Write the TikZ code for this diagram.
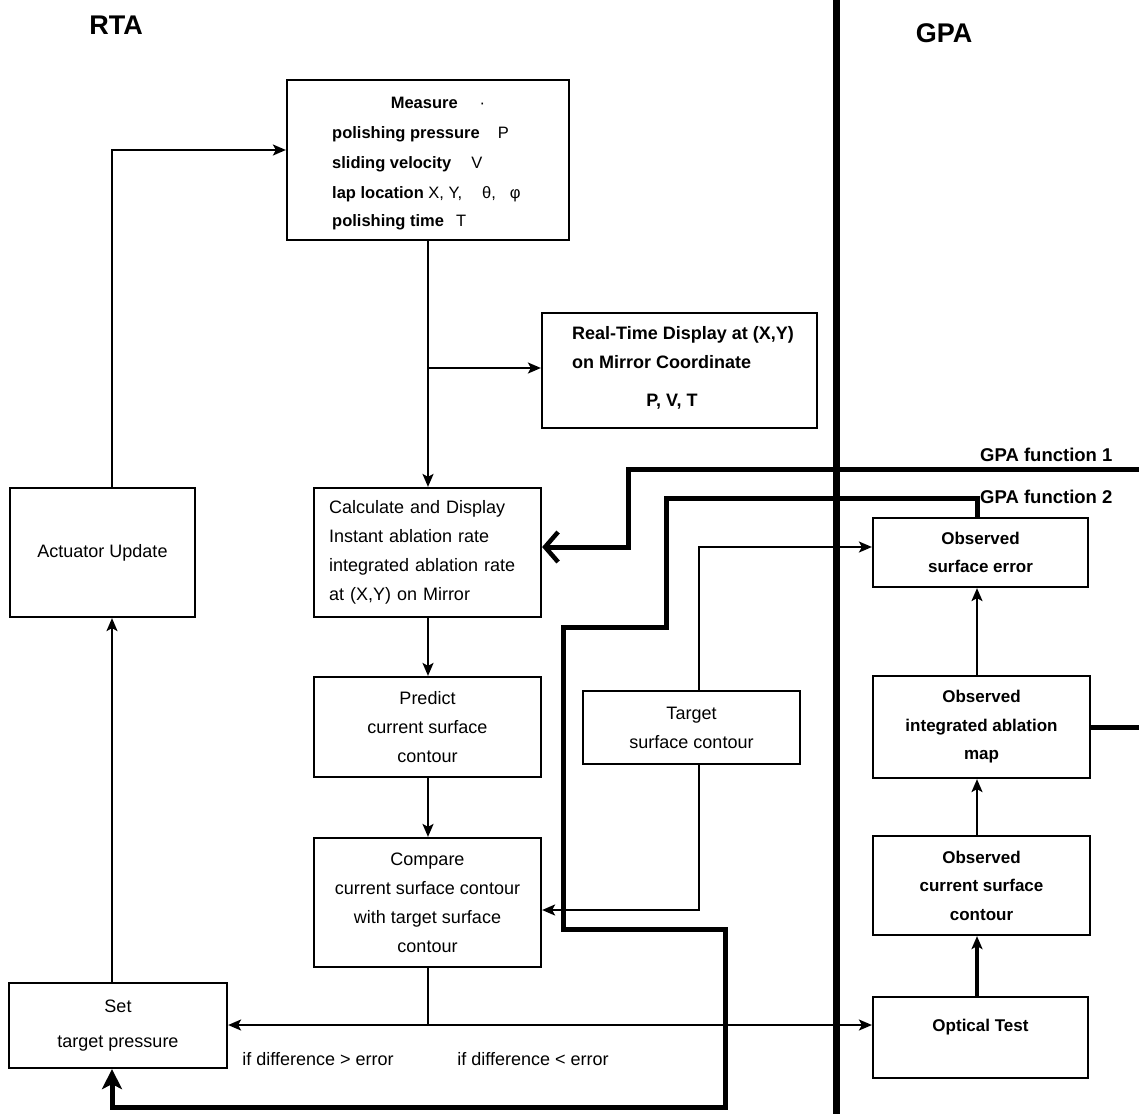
\documentclass[tikz,border=0pt]{standalone}
\usepackage{fontspec}
\setmainfont{Liberation Sans}
\usetikzlibrary{arrows.meta}
\begin{document}
\begin{tikzpicture}[x=1pt,y=-1pt,
  box/.style={draw, line width=2.2pt, inner sep=0pt, align=center,
              font=\fontsize{18}{29}\selectfont},
  obox/.style={box, font=\fontsize{17}{28.5}\selectfont\bfseries},
  txt/.style={inner sep=0pt, font=\fontsize{18}{29}\selectfont},
  mtxt/.style={inner sep=0pt, font=\fontsize{16.5}{30}\selectfont},
  rtxt/.style={inner sep=0pt, font=\fontsize{18}{29}\selectfont\bfseries},
  head/.style={inner sep=0pt, font=\fontsize{27}{30}\selectfont\bfseries},
  flbl/.style={inner sep=0pt, font=\fontsize{18.5}{22}\selectfont\bfseries},
  thinline/.style={line width=2pt},
  midline/.style={line width=3.5pt},
  heavy/.style={line width=5pt},
  arr/.style={-{Stealth[length=13pt,width=11pt,inset=3pt]}},
  barb/.style={-{Straight Barb[length=13pt,width=30pt,line width=4.5pt]}},
  bigarr/.style={-{Stealth[length=20pt,width=20pt,inset=5pt]}},
]
\fill[white] (0,0) rectangle (1139,1114);
\useasboundingbox (0,0) rectangle (1139,1114);

% column guides
\coordinate (lx) at (112,0);
\coordinate (cx) at (428,0);
\coordinate (tx) at (699,0);
\coordinate (rx) at (977,0);

% headings
\node[head] (rta) at (116,25) {RTA};
\node[head] (gpa) at (944,33) {GPA};

% divider between the two sides
\coordinate (divtop) at (836,0);
\coordinate (divbot) at (836,1114);
\draw[line width=7pt] (divtop) -- (divbot);

% RTA boxes
\node[box, minimum width=282pt, minimum height=160pt] (measure) at (428,160) {};
\node[mtxt, anchor=base] (m0) at (438,108) {\textbf{Measure}\hspace{22pt}·};
\node[mtxt, anchor=base west] (m1) at (332,138) {\textbf{polishing pressure}\hspace{18pt}P};
\node[mtxt, anchor=base west] (m2) at (332,168) {\textbf{sliding velocity}\hspace{20pt}V};
\node[mtxt, anchor=base west] (m3) at (332,198) {\textbf{lap location} X, Y,\hspace{20pt}θ,\hspace{14pt}φ};
\node[mtxt, anchor=base west] (m4) at (332,226) {\textbf{polishing time}\hspace{12pt}T};

\node[box, minimum width=275pt, minimum height=115pt] (rtd) at (679.5,370.5) {};
\node[rtxt, anchor=base west] (r1) at (572,339.5) {Real-Time Display at (X,Y)};
\node[rtxt, anchor=base west] (r2) at (572,368.5) {on Mirror Coordinate};
\node[rtxt, anchor=base] (r3) at (672,406.5) {P, V, T};

\node[box, minimum width=227pt, minimum height=129pt, text width=197pt, align=left]
  (calc) at (427.5,552.5)
  {Calculate and Display\\Instant ablation rate\\integrated ablation rate\\at (X,Y) on Mirror};
\node[box, minimum width=227pt, minimum height=100pt] (predict) at (427.5,727)
  {Predict\\current surface\\contour};
\node[box, minimum width=227pt, minimum height=129pt] (compare) at (427.5,902.5)
  {Compare\\current surface contour\\with target surface\\contour};
\node[box, minimum width=185pt, minimum height=129pt] (actuator) at (102.5,552.5)
  {Actuator Update};
\node[box, minimum width=218pt, minimum height=85pt] (settp) at (118,1025.5)
  {Set\\[6pt]target pressure};
\node[box, minimum width=217pt, minimum height=73pt] (target) at (691.5,727.5)
  {Target\\surface contour};

% GPA boxes
\node[obox, minimum width=215pt, minimum height=69pt] (obserr) at (980.5,552.5)
  {Observed\\surface error};
\node[obox, minimum width=217pt, minimum height=102pt] (obsint) at (981.5,727)
  {Observed\\integrated ablation\\map};
\node[obox, minimum width=217pt, minimum height=99pt] (obscur) at (981.5,885.5)
  {Observed\\current surface\\contour};
\node[obox, minimum width=215pt, minimum height=81pt, text depth=25pt] (optical) at (980.5,1037.5)
  {Optical Test};

% decision labels
\node[txt] (ifgt) at (318,1059) {if difference > error};
\node[txt] (iflt) at (533,1059) {if difference < error};

% GPA function labels
\node[flbl, anchor=west] (gpaf1) at (980,455) {GPA function 1};
\node[flbl, anchor=west] (gpaf2) at (980,497) {GPA function 2};

% RTA loop
\coordinate (branch) at (428,368);
\coordinate (split) at (428,1025);
\coordinate (mtop) at (112,150);
\draw[thinline, arr] (measure.south -| cx) -- (calc.north -| cx);
\draw[thinline, arr] (branch) -- (branch -| rtd.west);
\draw[thinline, arr] (calc.south -| cx) -- (predict.north -| cx);
\draw[thinline, arr] (predict.south -| cx) -- (compare.north -| cx);
\draw[thinline] (compare.south -| cx) -- (split);
\draw[thinline, arr] (split) -- (split -| settp.east);
\draw[thinline, arr] (split) -- (split -| optical.west);
\draw[thinline, arr] (settp.north -| lx) -- (actuator.south -| lx);
\draw[thinline, arr] (actuator.north -| lx) -- (mtop) -- (mtop -| measure.west);

% target contour feeds
\coordinate (tgtup) at (699,547);
\coordinate (tgtdn) at (699,910);
\draw[thinline, arr] (target.north -| tx) -- (tgtup) -- (tgtup -| obserr.west);
\draw[thinline, arr] (target.south -| tx) -- (tgtdn) -- (tgtdn -| compare.east);

% GPA chain
\draw[midline, arr] (optical.north -| rx) -- (obscur.south -| rx);
\draw[thinline, arr] (obscur.north -| rx) -- (obsint.south -| rx);
\draw[thinline, arr] (obsint.north -| rx) -- (obserr.south -| rx);
\coordinate (stubend) at (1139,727);
\draw[heavy] (obsint.east) -- (stubend);

% GPA function 1
\coordinate (g1in) at (1139,469);
\coordinate (g1a) at (628,469);
\coordinate (g1b) at (628,547);
\draw[heavy, barb] (g1in) -- (g1a) -- (g1b) -- (g1b -| calc.east);

% GPA function 2
\coordinate (g2a) at (977,498);
\coordinate (g2b) at (666,498);
\coordinate (g2c) at (666,627);
\coordinate (g2d) at (563,627);
\coordinate (g2e) at (563,929);
\coordinate (g2f) at (725,929);
\coordinate (g2g) at (725,1107);
\coordinate (g2h) at (112,1107);
\draw[heavy, bigarr] (obserr.north -| rx) -- (g2a) -- (g2b) -- (g2c) -- (g2d)
  -- (g2e) -- (g2f) -- (g2g) -- (g2h) -- (settp.south -| lx);
\end{tikzpicture}
\end{document}
